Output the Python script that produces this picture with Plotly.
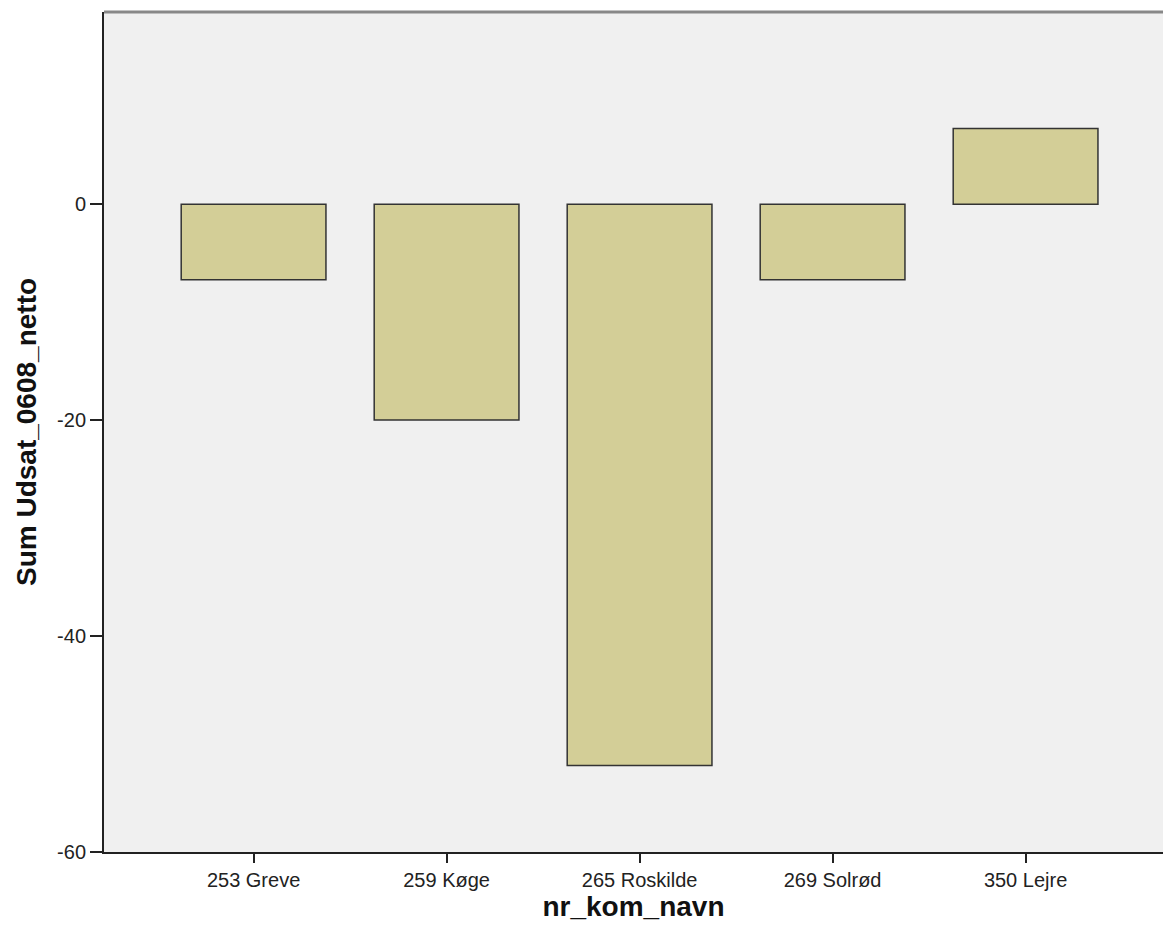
import plotly.graph_objects as go

categories = ["253 Greve", "259 Køge", "265 Roskilde", "269 Solrød", "350 Lejre"]
values = [-7, -20, -52, -7, 7]
y_ticks = [0, -20, -40, -60]

fig = go.Figure()
fig.add_trace(go.Bar(
    x=categories, y=values,
    marker=dict(color="#d3ce97", line=dict(color="#333333", width=1.5)),
    width=0.75,
))

fig.update_layout(
    width=1163, height=942,
    margin=dict(l=104, r=0, t=12, b=90),
    paper_bgcolor="white",
    plot_bgcolor="#f0f0f0",
    showlegend=False,
    font=dict(family="Liberation Sans, Arial, sans-serif", color="#222222", size=20),
)
fig.update_xaxes(
    type="category",
    range=[-0.775, 4.712],
    showgrid=False, zeroline=False,
    showline=True, linecolor="#222222", linewidth=2,
    ticks="outside", ticklen=9, tickcolor="#222222", tickwidth=1.5,
    tickfont=dict(size=20, color="#222222"),
    title=dict(text="<b>nr_kom_navn</b>", font=dict(size=28, color="#111111"), standoff=4),
)
fig.update_yaxes(
    range=[-60, 17.8],
    tickvals=y_ticks, ticktext=[str(v) for v in y_ticks],
    showgrid=False, zeroline=False,
    showline=True, linecolor="#222222", linewidth=2,
    ticks="outside", ticklen=12, tickcolor="#222222", tickwidth=1.5,
    tickfont=dict(size=20, color="#222222"),
    title=dict(text="<b>Sum Udsat_0608_netto</b>", font=dict(size=28, color="#111111"), standoff=12),
)
fig.add_shape(type="line", xref="paper", yref="paper", x0=0, x1=1, y0=1, y1=1,
              line=dict(color="#888888", width=3))

fig.write_html(
    "out.html",
    config={"displayModeBar": False},
    post_script="document.body.style.margin='0';document.body.style.overflow='hidden';",
)
